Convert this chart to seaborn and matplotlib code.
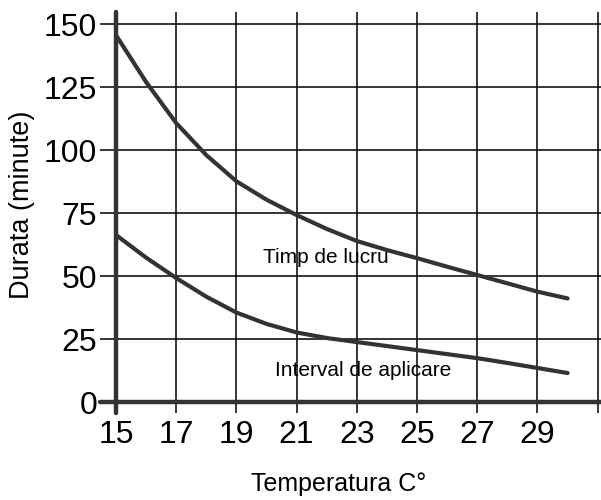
"""
Durata vs temperatura — doua curbe (timp de lucru / interval de aplicare)
"""

import numpy as np
import pandas as pd
import matplotlib
matplotlib.use("Agg")
import matplotlib.pyplot as plt
import seaborn as sns


# ── Date ──────────────────────────────────────────────────────────────────────

temperatura = [15, 16, 17, 18, 19, 20, 21, 22, 23, 24, 25, 26, 27, 28, 29, 30]
timp_lucru = [145.6, 127.0, 110.7, 98.0, 87.6, 80.3, 74.2, 68.7, 63.9, 60.3,
              57.1, 53.7, 50.4, 47.1, 43.8, 41.1]
interval_aplicare = [66.3, 57.3, 49.2, 41.8, 35.5, 31.0, 27.6, 25.4, 23.8, 22.2,
                     20.6, 19.0, 17.4, 15.5, 13.5, 11.5]

x_ticks = [15, 17, 19, 21, 23, 25, 27, 29, 31]
x_labels = ["15", "17", "19", "21", "23", "25", "27", "29", ""]
y_ticks = [0, 25, 50, 75, 100, 125, 150]

df = pd.DataFrame({
    "temp": temperatura * 2,
    "durata": timp_lucru + interval_aplicare,
    "serie": ["Timp de lucru"] * len(temperatura)
             + ["Interval de aplicare"] * len(temperatura),
})


# ── Desen ─────────────────────────────────────────────────────────────────────

sns.set_theme(style="white")
plt.rcParams["font.family"] = ["Liberation Sans", "DejaVu Sans"]
plt.rcParams["text.color"] = "black"
plt.rcParams["axes.labelcolor"] = "black"
plt.rcParams["xtick.color"] = "black"
plt.rcParams["ytick.color"] = "black"

fig = plt.figure(figsize=(6.01, 5.0), dpi=100)
ax = fig.add_axes([116 / 601, 98 / 500, 485 / 601, 390 / 500])

curve_col = "#333333"
sns.lineplot(
    data=df, x="temp", y="durata", hue="serie",
    palette={"Timp de lucru": curve_col, "Interval de aplicare": curve_col},
    linewidth=3, legend=False, ax=ax, zorder=3,
)

ax.set_xlim(15, 31.11)
ax.set_ylim(0, 154.8)
ax.set_xticks(x_ticks)
ax.set_xticklabels(x_labels)
ax.set_yticks(y_ticks)

ax.grid(True, color="black", linewidth=1.1)
ax.set_axisbelow(True)
for sp in ax.spines.values():
    sp.set_visible(False)

ax.tick_params(axis="y", length=11.5, width=1.1, color="black", labelcolor="black",
               pad=2, labelsize=23, left=True, direction="out")
ax.tick_params(axis="x", length=8, width=1.1, color="black", labelcolor="black",
               pad=5, labelsize=23, bottom=True, direction="out")

# axele groase, putin prelungite ca in original
ax.axvline(15, ymin=-11 / 390, ymax=1, color=curve_col, linewidth=3.2,
           clip_on=False, zorder=4)
ax.axhline(0, xmin=-16 / 485, xmax=1, color=curve_col, linewidth=3.2,
           clip_on=False, zorder=4)

ax.set_xlabel("Temperatura C°", fontsize=18, color="black")
ax.set_ylabel("Durata (minute)", fontsize=19.5, color="black")
ax.xaxis.set_label_coords(0.458, -0.179)
ax.yaxis.set_label_coords(-0.167, 0.505)

ax.text(19.88, 57.5, "Timp de lucru", fontsize=15, ha="left", va="center",
        color="black")
ax.text(20.28, 12.7, "Interval de aplicare", fontsize=15, ha="left", va="center",
        color="black")

fig.savefig("out.png", dpi=100)
